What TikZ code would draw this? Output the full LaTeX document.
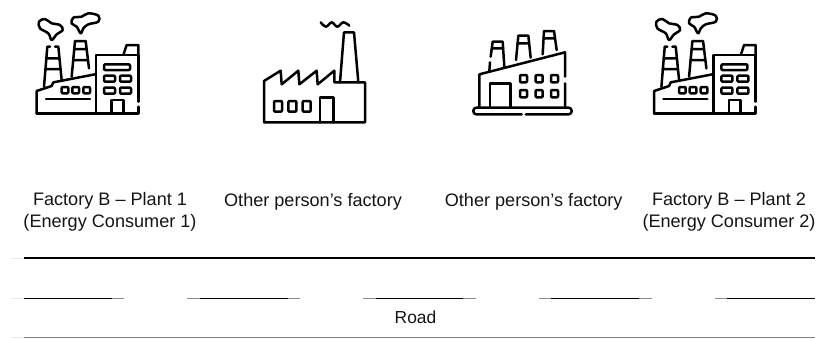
\documentclass[tikz,border=0pt]{standalone}
\usepackage{fontspec}
\setmainfont{Liberation Sans}
\tikzset{
  icon/.style={x=0.33333pt,y=-0.33333pt,line width=2.5pt,line join=round,line cap=round,black},
  label/.style={align=center,font=\fontsize{18.1}{22}\selectfont,text=black!92,inner sep=0pt},
  plantA/.pic={
    \draw plot[smooth cycle,tension=.6] coordinates {(95,105)(85,85)(60,70)(57,50)(75,42)(95,55)(120,60)(128,75)(110,88)};
    \draw plot[smooth cycle,tension=.6] coordinates {(182,85)(170,65)(155,55)(160,38)(185,35)(205,25)(235,32)(235,50)(205,58)(190,70)};
    \draw (72,245)--(82,125) (115,125)--(125,225) (82,125)--(90,125) (105,125)--(115,125) (78,160)--(118,160) (75,192)--(120,192);
    \draw (155,215)--(165,108)--(197,108)--(207,190) (162,132)--(200,132) (159,165)--(203,165);
    \draw (50,325)--(50,258)--(95,243)--(100,232)--(225,208);
    \draw (355,290)--(355,150)--(228,150)--(228,325);
    \draw (355,305)--(355,325)--(50,325);
    \draw (310,150)--(320,120)--(355,120)--(355,150);
    \draw[rounded corners=1pt] (252,178) rectangle (330,195);
    \foreach \a/\b in {252/212,300/212,252/248,300/248}{\draw[rounded corners=1pt] (\a,\b) rectangle (\a+33,\b+18);}
    \draw (275,325)--(275,285)--(310,285)--(310,325);
    \foreach \a in {125,157,190}{\draw[rounded corners=1pt] (\a,246) rectangle (\a+20,265);}
    \draw (78,282)--(210,282);
  }
}
\begin{document}
\begin{tikzpicture}[x=1pt,y=-1pt]
\useasboundingbox (0,0) rectangle (818,338);
% icons
\begin{scope}[shift={(20,5)},icon]
  \pic {plantA};
\end{scope}
\begin{scope}[shift={(637.4,5)},icon]
  \pic {plantA};
\end{scope}
\begin{scope}[shift={(250,5)},icon]
  \draw plot[smooth,tension=.6] coordinates {(212,52)(228,65)(245,52)(262,65)(280,52)(298,62)};
  \draw (270,232)--(282,82)--(312,82)--(325,232);
  \draw (42,352)--(42,228)--(92,197)--(95,238)--(145,197)--(148,238)--(200,197)--(203,238)--(253,197)--(253,232)--(345,232)--(345,352)--cycle;
  \foreach \a in {72,115,158}{\draw[rounded corners=1pt] (\a,288) rectangle (\a+24,320);}
  \draw (210,352)--(210,278)--(250,278)--(250,352);
\end{scope}
\begin{scope}[shift={(460,15)},icon]
  \draw[rounded corners=3pt] (185,298)--(40,298)--(40,278)--(335,278)--(335,298)--(197,298);
  \draw (58,278)--(58,178)--(315,112)--(315,185) (315,205)--(315,278);
  \draw (90,278)--(90,205)--(152,205)--(152,278);
  \draw (88,168)--(90,142) (92,125)--(98,80)--(128,80)--(133,155) (95,100)--(130,100);
  \draw (168,135)--(175,62)--(205,62)--(212,128) (172,85)--(207,85);
  \draw (248,118)--(252,48)--(282,48)--(290,105) (250,70)--(285,70);
  \foreach \a in {180,227,273}{\foreach \b in {180,225}{\draw[rounded corners=1pt] (\a,\b) rectangle (\a+21,\b+22);}}
\end{scope}
% labels
\node[label] (f1) at (110,212) {Factory B – Plant 1\\(Energy Consumer 1)};
\node[label,anchor=base] (o1) at (313,206) {Other person’s factory};
\node[label,anchor=base] (o2) at (533.7,206) {Other person’s factory};
\node[label] (f2) at (729,212) {Factory B – Plant 2\\(Energy Consumer 2)};
\node[label,anchor=base,font=\fontsize{17.4}{22}\selectfont] (road) at (415.5,323) {Road};
% road
\draw[black!8,line width=1pt] (11,258)--(24,258);
\draw[black,line width=2.6pt] (24,258)--(815,258);
\draw[black!8,line width=.8pt] (11,298.3)--(24,298.3);
\foreach \a/\b/\c/\d in {24/124/24/112,187/300/200/288,363/476/376/463,539/652/551/639,715/815/727/815}{
  \draw[black!45,line width=.9pt] (\a,298.3)--(\b,298.3);
  \draw[black,line width=1.5pt] (\c,298.3)--(\d,298.3);
}
\draw[black!8,line width=.8pt] (11,337.3)--(24,337.3);
\draw[black!50,line width=1pt] (24,337.3)--(815,337.3);
\end{tikzpicture}
\end{document}
